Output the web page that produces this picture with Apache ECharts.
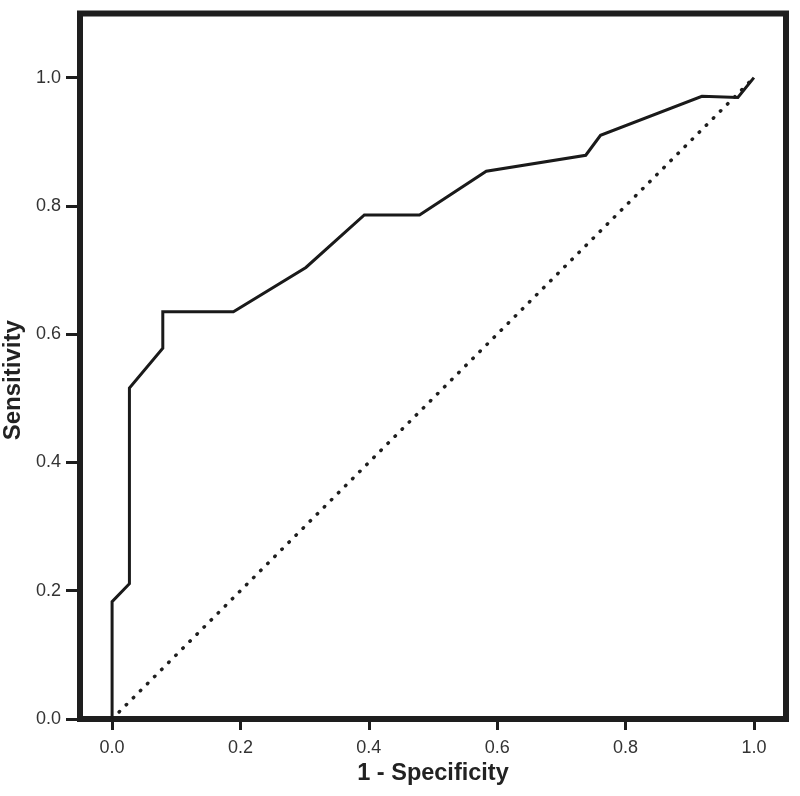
<!DOCTYPE html>
<html>
<head>
<meta charset="utf-8">
<script src="https://cdn.jsdelivr.net/npm/echarts@6/dist/echarts.min.js"></script>
<style>
html,body{margin:0;padding:0;background:#fff;}
#chart{width:800px;height:796px;}
</style>
</head>
<body>
<div id="chart"></div>
<script>
// ROC curve data (1 - Specificity, Sensitivity)
var rocX = [0, 0, 0.027, 0.027, 0.079, 0.079, 0.189, 0.302, 0.393, 0.479, 0.583, 0.738, 0.761, 0.919, 0.975, 1.0];
var rocY = [0, 0.183, 0.211, 0.516, 0.578, 0.635, 0.635, 0.704, 0.786, 0.786, 0.854, 0.879, 0.910, 0.971, 0.969, 1.0];
// reference diagonal
var refX = [0, 1];
var refY = [0, 1];
// tick labels
var xTicks = [0, 0.2, 0.4, 0.6, 0.8, 1.0];
var yTicks = [0, 0.2, 0.4, 0.6, 0.8, 1.0];

var rocData = rocX.map(function (x, i) { return [x, rocY[i]]; });
var refData = refX.map(function (x, i) { return [x, refY[i]]; });

var chart = echarts.init(document.getElementById('chart'), null, {renderer: 'canvas'});
var labelFont = {fontFamily: 'Liberation Sans, Arial, sans-serif', fontSize: 18, color: '#333'};
var nameFontX = {fontFamily: 'Liberation Sans, Arial, sans-serif', fontSize: 23.5, fontWeight: 'bold', color: '#222'};
var nameFontY = {fontFamily: 'Liberation Sans, Arial, sans-serif', fontSize: 24, fontWeight: 'bold', color: '#222', padding: [10, 28, 0, 0]};

chart.setOption({
  animation: false,
  backgroundColor: '#fff',
  grid: {
    left: 80, right: 14, top: 13.5, bottom: 77,
    containLabel: false, outerBoundsMode: 'none',
    show: true, borderWidth: 6, borderColor: '#1e1e1e', backgroundColor: 'transparent'
  },
  xAxis: {
    type: 'value', min: -0.05, max: 1.05,
    name: '1 - Specificity', nameLocation: 'middle', nameGap: 43,
    nameTextStyle: nameFontX,
    axisLine: {show: false, onZero: false},
    splitLine: {show: false},
    axisTick: {show: true, length: 11, lineStyle: {width: 3, color: '#1e1e1e'}, customValues: xTicks},
    axisLabel: Object.assign({margin: 20, customValues: xTicks, formatter: function (v) { return v.toFixed(1); }}, labelFont)
  },
  yAxis: {
    type: 'value', min: 0, max: 1.1,
    name: 'Sensitivity', nameLocation: 'middle', nameGap: 45, nameRotate: 90,
    nameTextStyle: nameFontY,
    axisLine: {show: false, onZero: false},
    splitLine: {show: false},
    axisTick: {show: true, length: 14, lineStyle: {width: 3, color: '#1e1e1e'}, customValues: yTicks},
    axisLabel: Object.assign({margin: 19, customValues: yTicks, formatter: function (v) { return v.toFixed(1); }}, labelFont)
  },
  series: [
    {
      type: 'line', data: refData, symbol: 'none', silent: true,
      lineStyle: {color: '#1e1e1e', width: 3.5, type: [0.5, 9.5], cap: 'round'}
    },
    {
      type: 'line', data: rocData, symbol: 'none', silent: true,
      lineStyle: {color: '#1a1a1a', width: 3, join: 'miter'}
    }
  ]
});
</script>
</body>
</html>
